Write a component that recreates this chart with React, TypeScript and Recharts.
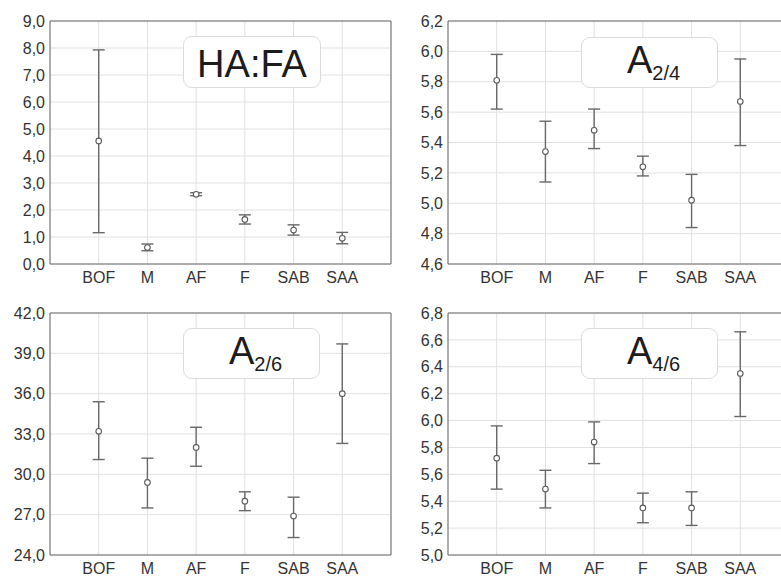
import React from 'react';
import {
  ScatterChart,
  Scatter,
  XAxis,
  YAxis,
  CartesianGrid,
  ErrorBar,
  ReferenceLine,
} from 'recharts';

const categories = ['BOF', 'M', 'AF', 'F', 'SAB', 'SAA'];

const haMean = [4.56, 0.61, 2.58, 1.65, 1.26, 0.95];
const haLow = [1.16, 0.49, 2.53, 1.48, 1.07, 0.75];
const haHigh = [7.93, 0.74, 2.64, 1.82, 1.45, 1.17];
const haTicks = [0, 1, 2, 3, 4, 5, 6, 7, 8, 9];

const a24Mean = [5.81, 5.34, 5.48, 5.24, 5.02, 5.67];
const a24Low = [5.62, 5.14, 5.36, 5.18, 4.84, 5.38];
const a24High = [5.98, 5.54, 5.62, 5.31, 5.19, 5.95];
const a24Ticks = [4.6, 4.8, 5.0, 5.2, 5.4, 5.6, 5.8, 6.0, 6.2];

const a26Mean = [33.2, 29.4, 32.0, 28.0, 26.9, 36.0];
const a26Low = [31.1, 27.5, 30.6, 27.3, 25.3, 32.3];
const a26High = [35.4, 31.2, 33.5, 28.7, 28.3, 39.7];
const a26Ticks = [24, 27, 30, 33, 36, 39, 42];

const a46Mean = [5.72, 5.49, 5.84, 5.35, 5.35, 6.35];
const a46Low = [5.49, 5.35, 5.68, 5.24, 5.22, 6.03];
const a46High = [5.96, 5.63, 5.99, 5.46, 5.47, 6.66];
const a46Ticks = [5.0, 5.2, 5.4, 5.6, 5.8, 6.0, 6.2, 6.4, 6.6, 6.8];

const categoryTicks = [1, 2, 3, 4, 5, 6];

const FONT = '"Liberation Sans", Arial, Helvetica, sans-serif';
const AXIS = '#6a6a6a';
const GRID = '#e0e0e0';
const TEXT = '#333333';
const BAR = '#686868';

function buildData(mean: number[], low: number[], high: number[]) {
  return mean.map((m, i) => ({
    x: i + 1,
    y: m,
    err: [m - low[i], high[i] - m],
  }));
}

const Marker = (props: any) => {
  const { cx, cy } = props;
  if (cx == null || cy == null) return null;
  return <circle cx={cx} cy={cy} r={2.8} fill="#ffffff" stroke="#5c5c5c" strokeWidth={1.1} />;
};

type PanelProps = {
  left: number;
  top: number;
  width: number;
  height: number;
  margin: { top: number; right: number; bottom: number; left: number };
  yWidth: number;
  ticks: number[];
  data: { x: number; y: number; err: number[] }[];
  box: { left: number; top: number; width: number; height: number };
  main: string;
  sub?: string;
};

function Panel(p: PanelProps) {
  const yMin = p.ticks[0];
  const yMax = p.ticks[p.ticks.length - 1];
  return (
    <div style={{ position: 'absolute', left: p.left, top: p.top, width: p.width, height: p.height }}>
      <ScatterChart width={p.width} height={p.height} margin={p.margin}>
        <CartesianGrid stroke={GRID} strokeWidth={1} />
        <XAxis
          type="number"
          dataKey="x"
          domain={[0, 7]}
          ticks={categoryTicks}
          tickFormatter={(v: number) => categories[v - 1]}
          height={20}
          tickLine={false}
          tickSize={4}
          tickMargin={4}
          stroke={AXIS}
          tick={{ fill: TEXT, fontSize: 16, fontFamily: FONT }}
          interval={0}
        />
        <YAxis
          type="number"
          dataKey="y"
          domain={[yMin, yMax]}
          ticks={p.ticks}
          allowDataOverflow
          width={p.yWidth}
          tickLine={false}
          tickSize={2}
          tickMargin={3}
          stroke={AXIS}
          tickFormatter={(v: number) => v.toFixed(1).replace('.', ',')}
          tick={{ fill: TEXT, fontSize: 16, fontFamily: FONT }}
          interval={0}
        />
        <ReferenceLine y={yMax} stroke={AXIS} strokeWidth={1} />
        <ReferenceLine x={7} stroke={AXIS} strokeWidth={1} />
        <Scatter data={p.data} shape={<Marker />} isAnimationActive={false}>
          <ErrorBar dataKey="err" direction="y" width={6} stroke={BAR} strokeWidth={1.4} />
        </Scatter>
      </ScatterChart>
      <div
        style={{
          position: 'absolute',
          left: p.box.left,
          top: p.box.top,
          width: p.box.width,
          height: p.box.height,
          boxSizing: 'border-box',
          border: '1px solid #dcdcdc',
          borderRadius: 9,
          background: '#ffffff',
        }}
      >
        <svg width={p.box.width - 2} height={p.box.height - 2} style={{ position: 'absolute', left: 0, top: 0 }}>
          <text
            x={(p.box.width - 2) / 2 + (p.sub ? 4 : 0)}
            y={p.sub ? 35 : 40}
            textAnchor="middle"
            fontFamily={FONT}
            fontSize={38}
            fill="#1c1c1c"
          >
            <tspan>{p.main}</tspan>
            {p.sub ? (
              <tspan fontSize={20} dy={7}>
                {p.sub}
              </tspan>
            ) : null}
          </text>
        </svg>
      </div>
    </div>
  );
}

export default function App() {
  return (
    <div
      style={{
        position: 'absolute',
        left: 0,
        top: 0,
        width: 781,
        height: 576,
        overflow: 'hidden',
        background: '#ffffff',
        fontFamily: FONT,
      }}
    >
      <Panel
        left={0}
        top={0}
        width={400}
        height={290}
        margin={{ top: 21, right: 9, bottom: 6, left: 5 }}
        yWidth={45}
        ticks={haTicks}
        data={buildData(haMean, haLow, haHigh)}
        box={{ left: 183, top: 36, width: 138, height: 52 }}
        main="HA:FA"
      />
      <Panel
        left={390}
        top={0}
        width={400}
        height={290}
        margin={{ top: 21, right: 1, bottom: 6, left: 5 }}
        yWidth={53}
        ticks={a24Ticks}
        data={buildData(a24Mean, a24Low, a24High)}
        box={{ left: 191, top: 37, width: 137, height: 51 }}
        main="A"
        sub="2/4"
      />
      <Panel
        left={0}
        top={290}
        width={400}
        height={286}
        margin={{ top: 23, right: 9, bottom: 1, left: 5 }}
        yWidth={45}
        ticks={a26Ticks}
        data={buildData(a26Mean, a26Low, a26High)}
        box={{ left: 183, top: 38, width: 137, height: 51 }}
        main="A"
        sub="2/6"
      />
      <Panel
        left={390}
        top={290}
        width={400}
        height={286}
        margin={{ top: 23, right: 1, bottom: 1, left: 5 }}
        yWidth={53}
        ticks={a46Ticks}
        data={buildData(a46Mean, a46Low, a46High)}
        box={{ left: 191, top: 38, width: 137, height: 51 }}
        main="A"
        sub="4/6"
      />
    </div>
  );
}
